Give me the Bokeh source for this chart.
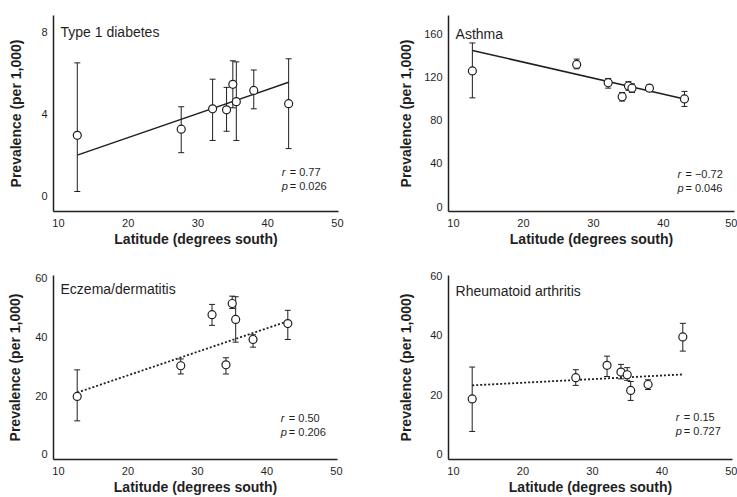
from bokeh.plotting import figure
from bokeh.layouts import column, row
from bokeh.models import ColumnDataSource, Whisker, TeeHead, Label, Range1d, FixedTicker
from bokeh.embed import file_html
from bokeh.resources import INLINE

# ---- data ----
latitude = [12.7, 27.6, 32.1, 34.1, 35.0, 35.5, 38.0, 43.0]

diabetes = [2.95, 3.25, 4.25, 4.2, 5.45, 4.6, 5.15, 4.5]
diabetes_lo = [0.2, 2.1, 2.7, 3.15, 4.3, 2.7, 4.25, 2.3]
diabetes_hi = [6.5, 4.35, 5.7, 5.3, 6.6, 6.55, 6.15, 6.7]

asthma = [126, 132, 115, 102, 112, 110, 110, 100]
asthma_lo = [101, 128, 110, 98, 108, 106, 107, 93]
asthma_hi = [152, 137, 119, 106, 116, 114, 113, 107]

eczema = [19.7, 30.1, 47.4, 30.4, 51.2, 45.8, 39.0, 44.4]
eczema_lo = [11.4, 27.3, 43.8, 27.3, 49.5, 38.1, 36.4, 39.0]
eczema_hi = [28.7, 32.4, 50.9, 32.8, 53.7, 53.5, 40.6, 48.9]

arthritis = [18.5, 25.7, 29.9, 27.6, 26.7, 21.4, 23.4, 39.5]
arthritis_lo = [7.5, 23.1, 26.1, 25.3, 24.8, 18.0, 21.7, 34.7]
arthritis_hi = [29.3, 28.4, 33.0, 30.2, 29.1, 24.4, 25.0, 44.1]

fit_latitude = [12.7, 43.0]
diabetes_fit = [1.98, 5.55]
asthma_fit = [145, 100]
eczema_fit = [21.0, 45.2]
arthritis_fit = [23.1, 26.8]

x_ticks = [10, 20, 30, 40, 50]
diabetes_ticks = [0, 4, 8]
asthma_ticks = [0, 40, 80, 120, 160]
percent_ticks = [0, 20, 40, 60]

titles = ["Type 1 diabetes", "Asthma", "Eczema/dermatitis", "Rheumatoid arthritis"]
r_values = ["0.77", "\u22120.72", "0.50", "0.15"]
p_values = ["0.026", "0.046", "0.206", "0.727"]

INK = "#1f1f1f"
NARROW = "'Liberation Sans Narrow', 'Liberation Sans', sans-serif"
REG = "'Liberation Sans', Arial, sans-serif"


def panel(title, vals, lo, hi, fit, dash, yticks, yrange, title_y, stat_y,
          r_txt, p_txt, width, height, left, right, top, bottom, ylab_standoff):
    p = figure(width=width, height=height, output_backend="svg", toolbar_location=None,
               x_range=Range1d(9.29, 50.15), y_range=Range1d(*yrange),
               min_border_left=left, min_border_right=right,
               min_border_top=top, min_border_bottom=bottom)
    p.outline_line_color = None
    p.grid.visible = False
    p.background_fill_color = "white"
    p.border_fill_color = "white"

    for ax in (p.xaxis[0], p.yaxis[0]):
        ax.axis_line_color = INK
        ax.axis_line_width = 1.5
        ax.major_tick_line_color = None
        ax.minor_tick_line_color = None
        ax.major_tick_out = 0
        ax.major_tick_in = 0
        ax.minor_tick_out = 0
        ax.minor_tick_in = 0
        ax.major_label_text_font = NARROW
        ax.major_label_text_font_size = "11px"
        ax.major_label_text_color = INK
        ax.axis_label_text_font = NARROW
        ax.axis_label_text_font_size = "14px"
        ax.axis_label_text_font_style = "bold"
        ax.axis_label_text_color = INK
    p.xaxis.ticker = FixedTicker(ticks=x_ticks)
    p.yaxis.ticker = FixedTicker(ticks=yticks)
    p.xaxis.axis_label = "Latitude (degrees south)"
    p.yaxis.axis_label = "Prevalence (per 1,000)"
    p.xaxis.major_label_standoff = 7
    p.xaxis.axis_label_standoff = 1
    p.yaxis.major_label_standoff = 6
    p.yaxis.axis_label_standoff = ylab_standoff

    src = ColumnDataSource(dict(x=latitude, y=vals, lo=lo, hi=hi))
    w = Whisker(base="x", lower="lo", upper="hi", source=src, dimension="height",
                line_color=INK, line_width=1,
                lower_head=TeeHead(size=6, line_color=INK, line_width=1),
                upper_head=TeeHead(size=6, line_color=INK, line_width=1))
    p.add_layout(w)

    p.line(fit_latitude, fit, line_color=INK, line_width=1.5 if dash == "solid" else 1.8,
           line_dash=dash)
    p.scatter("x", "y", source=src, marker="circle", size=8, fill_color="white",
              line_color=INK, line_width=1.2)

    p.add_layout(Label(x=10.3, y=title_y, text=title, text_font=REG, text_font_size="14px",
                       text_color=INK, text_baseline="middle"))
    sx = 42.0
    p.add_layout(Label(x=sx, y=stat_y, text="r", text_font=NARROW, text_font_size="11px",
                       text_font_style="italic", text_color=INK, text_baseline="middle"))
    p.add_layout(Label(x=sx, y=stat_y, x_offset=8, text="= " + r_txt, text_font=NARROW,
                       text_font_size="11px", text_color=INK, text_baseline="middle"))
    p.add_layout(Label(x=sx, y=stat_y, y_offset=-14, text="p", text_font=NARROW,
                       text_font_size="11px", text_font_style="italic", text_color=INK,
                       text_baseline="middle"))
    p.add_layout(Label(x=sx, y=stat_y, x_offset=8, y_offset=-14, text="= " + p_txt,
                       text_font=NARROW, text_font_size="11px", text_color=INK,
                       text_baseline="middle"))
    return p


p1 = panel(titles[0], diabetes, diabetes_lo, diabetes_hi, diabetes_fit, "solid",
           diabetes_ticks, (-0.78, 8.82), 8, 1.16, r_values[0], p_values[0],
           368, 249, 53, 30, 15, 37, 14)
p2 = panel(titles[1], asthma, asthma_lo, asthma_hi, asthma_fit, "solid",
           asthma_ticks, (-4.6, 177.5), 160, 30.3, r_values[1], p_values[1],
           369, 249, 80, 3, 15, 37, 7)
p3 = panel(titles[2], eczema, eczema_lo, eczema_hi, eczema_fit, "2 2",
           percent_ticks, (-1.7, 60.7), 56, 12.3, r_values[2], p_values[2],
           368, 248, 53, 31, 26, 37, 9)
p4 = panel(titles[3], arthritis, arthritis_lo, arthritis_hi, arthritis_fit, "2 2",
           percent_ticks, (-2.0, 60.3), 55, 12.3, r_values[3], p_values[3],
           369, 248, 80, 5, 26, 37, 13)

layout = column(row(p1, p2), row(p3, p4))
open("out.html", "w").write(file_html(layout, INLINE))
